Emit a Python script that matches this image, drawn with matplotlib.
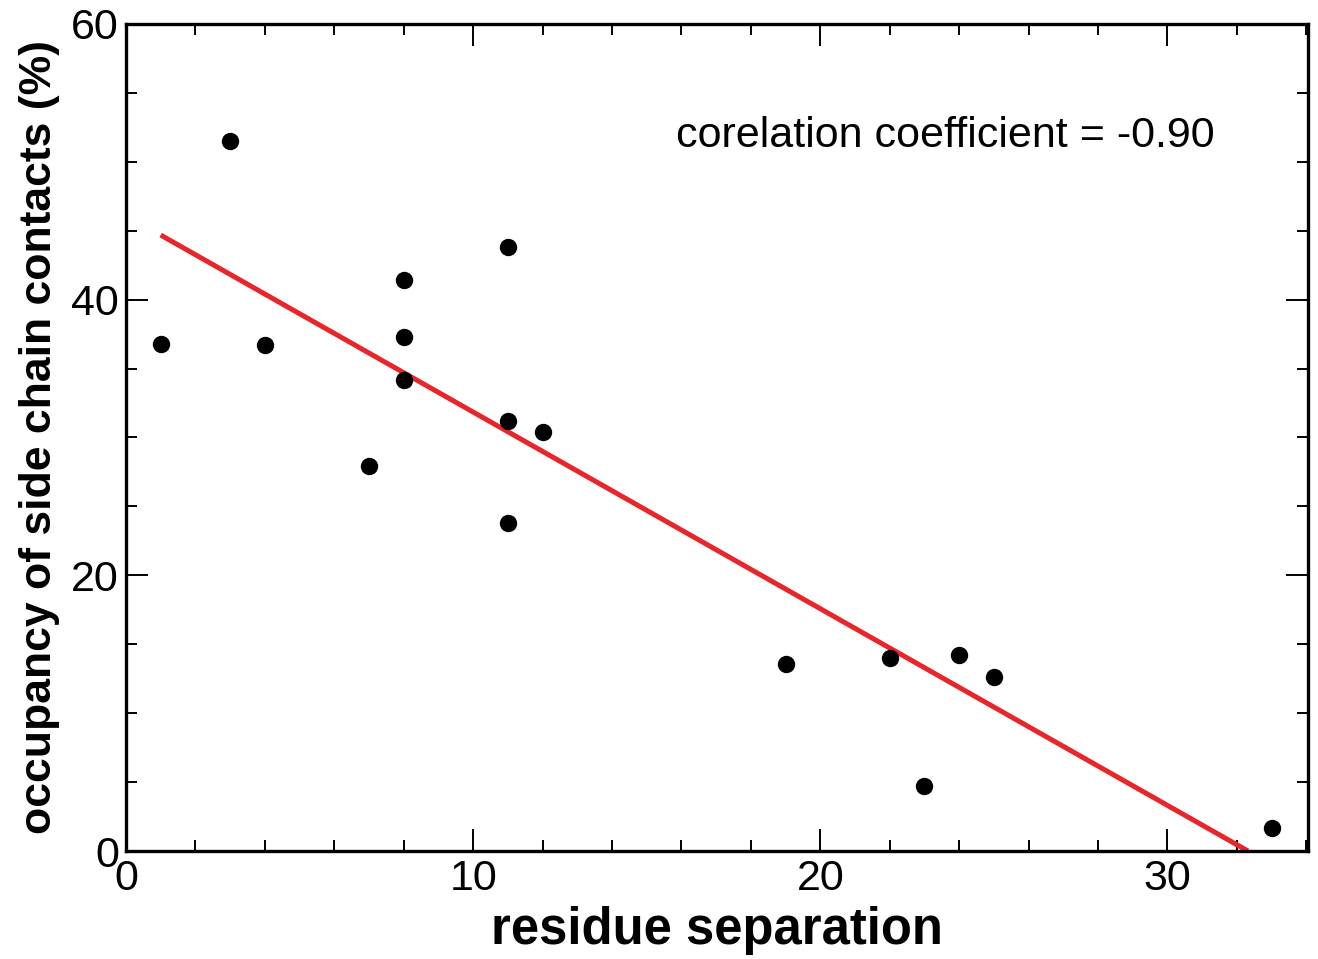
import numpy as np
import matplotlib
matplotlib.use("Agg")
import matplotlib.pyplot as plt
from matplotlib.ticker import MultipleLocator

plt.rcParams['font.family'] = ['Liberation Sans', 'DejaVu Sans']

# residue separation vs occupancy (%)
separation = [1, 3, 4, 7, 8, 8, 8, 11, 11, 11, 12, 19, 22, 23, 24, 25, 33]
occupancy = [36.8, 51.5, 36.7, 27.9, 41.4, 37.3, 34.2, 43.8, 31.2, 23.8,
             30.4, 13.6, 14.0, 4.7, 14.2, 12.6, 1.7]
corr_text = "corelation coefficient = -0.90"

x = np.array(separation, dtype=float)
y = np.array(occupancy, dtype=float)
slope, icpt = np.polyfit(x, y, 1)
x_end = -icpt / slope  # line stops where it hits 0
fit_x = np.array([x.min(), x_end])
fit_y = slope * fit_x + icpt

fig = plt.figure(figsize=(13.18, 9.59), dpi=100)
ax = fig.add_axes([0.0956, 0.1126, 0.8968, 0.8624])

ax.plot(fit_x, fit_y, color='#e8252b', lw=3.6, solid_capstyle='butt', zorder=2)
ax.plot(x, y, 'o', color='black', ms=11.5, zorder=3)

ax.set_xlim(0, 34.05)
ax.set_ylim(0, 60)
ax.xaxis.set_major_locator(MultipleLocator(10))
ax.xaxis.set_minor_locator(MultipleLocator(2))
ax.yaxis.set_major_locator(MultipleLocator(20))
ax.yaxis.set_minor_locator(MultipleLocator(5))

ax.tick_params(which='both', direction='in', top=True, right=True, width=1.4)
ax.tick_params(which='major', length=16, labelsize=31)
ax.tick_params(which='minor', length=8)
ax.tick_params(axis='x', pad=6)
ax.tick_params(axis='y', pad=5)
for s in ax.spines.values():
    s.set_linewidth(2.4)

ax.set_xlabel("residue separation", fontsize=36.5, fontweight='bold', labelpad=5)
ax.set_ylabel("occupancy of side chain contacts (%)", fontsize=32,
              fontweight='bold', labelpad=8)

ax.text(0.465, 0.865, corr_text, transform=ax.transAxes, fontsize=31,
        ha='left', va='center')

fig.savefig("out.png", dpi=100)
